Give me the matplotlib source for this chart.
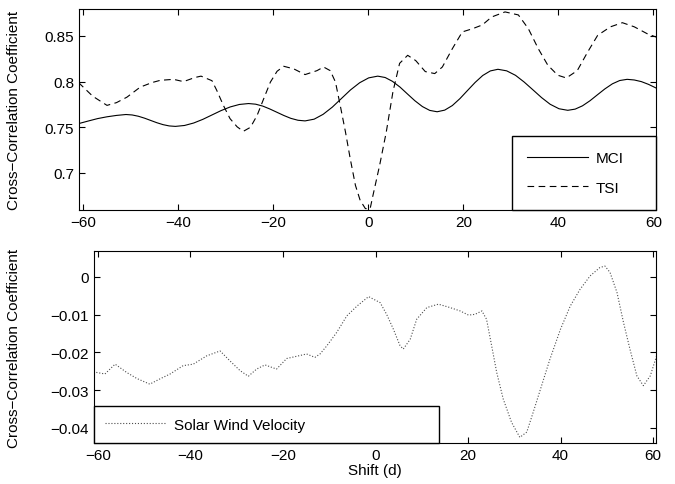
import numpy as np
import matplotlib.pyplot as plt
from matplotlib.ticker import FuncFormatter

plt.rcParams['font.family'] = ['Liberation Sans', 'DejaVu Sans']
plt.rcParams['font.size'] = 11

# cross-correlation vs shift (days)
mci_shift = [-61, -59, -57, -55, -53, -51, -49.7, -48.4, -47.1, -45.8, -44.5, -43.2, -41.9,
             -40.6, -38.675, -36.75, -34.825, -32.9, -30.975, -29.05, -27.125, -25.2,
             -23.71, -22.2, -20.74, -19.25, -17.76, -16.3, -14.79, -13.3, -11.39, -9.5,
             -7.56, -5.65, -3.74, -1.8, 0.09, 2, 3.56, 5.1, 6.69, 8.25, 9.81, 11.4, 12.94,
             14.5, 16.1, 17.7, 19.3, 20.9, 22.5, 24.1, 25.7, 27.3, 29.14, 31, 32.81, 34.65,
             36.49, 38.3, 40.16, 42, 43.56, 45.1, 46.69, 48.25, 49.81, 51.4, 52.94, 54.5,
             56, 57.5, 59, 61]
mci_cc = [0.754, 0.7568, 0.7595, 0.7615, 0.763, 0.764, 0.7635, 0.7621, 0.760, 0.7575,
          0.755, 0.7529, 0.7515, 0.751, 0.752, 0.7547, 0.7587, 0.7635, 0.7683, 0.7723,
          0.775, 0.776, 0.7753, 0.7732, 0.7701, 0.7665, 0.7629, 0.7598, 0.7577, 0.757,
          0.7589, 0.7642, 0.7721, 0.7815, 0.7909, 0.7988, 0.8041, 0.806, 0.8045, 0.8003,
          0.794, 0.7865, 0.7791, 0.7727, 0.7685, 0.767, 0.7688, 0.7738, 0.7814, 0.7903,
          0.7991, 0.8067, 0.8117, 0.8135, 0.8118, 0.8069, 0.7996, 0.7911, 0.7825, 0.7752,
          0.7703, 0.7686, 0.7699, 0.7735, 0.7791, 0.7856, 0.792, 0.7976, 0.8012, 0.8025,
          0.8018, 0.800, 0.797, 0.792]

tsi_shift = [-61, -58, -55, -53, -50.8, -48, -45.5, -43.8, -41, -38.9, -36.5, -35.2,
             -32.9, -31.9, -30.5, -29.1, -27.6, -26.3, -24.8, -23.4, -22, -20.6, -19.2,
             -17.8, -15.7, -13.3, -10.8, -9.4, -8, -6.9, -5.9, -4.8, -3.8, -2.7, -1.7,
             -0.6, 0.4, 1.0, 2.4, 3.8, 5.2, 6.6, 8.3, 10, 12, 14, 15.6, 17.7, 19.8, 22, 24,
             26, 28.8, 31.6, 33.7, 35.8, 37.8, 39.9, 41.7, 44, 46.2, 48.3, 51, 53.5, 56,
             58.7, 61]
tsi_cc = [0.799, 0.784, 0.774, 0.777, 0.783, 0.794, 0.799, 0.8014, 0.8025, 0.800, 0.8045,
          0.806, 0.801, 0.7905, 0.774, 0.7595, 0.7505, 0.7456, 0.750, 0.763, 0.7814,
          0.7995, 0.8113, 0.8168, 0.814, 0.8077, 0.812, 0.816, 0.812, 0.7995, 0.774,
          0.745, 0.7158, 0.6865, 0.670, 0.661, 0.661, 0.6756, 0.7085, 0.745, 0.789, 0.820,
          0.8288, 0.823, 0.811, 0.8088, 0.816, 0.836, 0.8544, 0.858, 0.862, 0.8708,
          0.8763, 0.873, 0.858, 0.836, 0.818, 0.807, 0.804, 0.812, 0.8325, 0.8507, 0.860,
          0.8645, 0.860, 0.8525, 0.848]

sw_shift = [-61, -60.3, -58.5, -56.3, -53.8, -51.6, -48.8, -46.6, -44.4, -41.6, -39.4,
            -36.5, -33.6, -31.5, -29.3, -27.5, -25.7, -23.9, -21.4, -19.2, -17, -14.9,
            -13.1, -12, -10.5, -8.4, -6.2, -4, -1.5, 1, 2.4, 3.85, 5.3, 6, 7.5, 8.9, 11.1,
            13.6, 16.1, 18.3, 20.1, 21.5, 23, 24, 25.1, 26.2, 27.6, 29.4, 31.2, 32.7, 34.1,
            35.9, 37.7, 40, 42.1, 44.2, 46.4, 48.5, 49.6, 50.7, 52.2, 53.6, 55, 56.5, 57.9,
            59.4, 61]
sw_cc = [-0.0252, -0.0253, -0.0257, -0.0231, -0.0253, -0.0269, -0.0284, -0.0270, -0.0257,
         -0.0235, -0.0231, -0.0209, -0.0196, -0.0222, -0.0248, -0.0263, -0.0244, -0.0233,
         -0.0244, -0.0216, -0.0210, -0.0204, -0.0213, -0.0204, -0.0182, -0.0147, -0.0103,
         -0.0077, -0.0052, -0.0068, -0.0099, -0.0138, -0.0182, -0.0191, -0.0165, -0.0112,
         -0.0081, -0.0072, -0.0081, -0.0090, -0.0101, -0.0099, -0.0090, -0.0112, -0.0182,
         -0.0253, -0.0323, -0.0385, -0.0425, -0.0411, -0.0358, -0.0288, -0.0218, -0.0138,
         -0.0077, -0.0033, 0.0003, 0.0025, 0.0029, 0.0012, -0.0041, -0.0120, -0.0191,
         -0.0262, -0.0288, -0.0262, -0.0200]

x_ticks = [-60, -40, -20, 0, 20, 40, 60]
top_yticks = [0.7, 0.75, 0.8, 0.85]
bot_yticks = [-0.04, -0.03, -0.02, -0.01, 0]

fmt = FuncFormatter(lambda v, p: ('%g' % round(v, 4)).replace('-', '\u2212'))
ylab = 'Cross\u2212Correlation Coefficient'

fig = plt.figure(figsize=(6.75, 4.85), dpi=100)
ax1 = fig.add_axes([0.117, 0.565, 0.855, 0.4144])
ax2 = fig.add_axes([0.139, 0.0845, 0.8326, 0.396])

ax1.plot(mci_shift, mci_cc, color='k', lw=0.8, label='MCI')
ax1.plot(tsi_shift, tsi_cc, color='k', lw=0.8, ls=(0, (6, 4)), label='TSI')
ax1.set_xlim(-60.9, 60.6)
ax1.set_ylim(0.6595, 0.8795)
ax1.set_yticks(top_yticks)
ax1.yaxis.set_label_coords(-0.1, 0.5)
leg1 = ax1.legend(loc='lower left', bbox_to_anchor=(0.7504, 0.0, 0.2496, 0.37),
                  mode='expand', borderaxespad=0, fancybox=False, edgecolor='k',
                  framealpha=1, handlelength=4.0, handletextpad=0.5,
                  labelspacing=1.0, borderpad=1.0)

ax2.plot(sw_shift, sw_cc, color='0.3', lw=0.8, ls=':', label='Solar Wind Velocity')
ax2.set_xlim(-60.9, 60.6)
ax2.set_ylim(-0.044, 0.0069)
ax2.set_yticks(bot_yticks)
ax2.set_xlabel('Shift (d)', labelpad=1)
ax2.yaxis.set_label_coords(-0.13, 0.5)
leg2 = ax2.legend(loc='lower left', bbox_to_anchor=(0.0, 0.0, 0.614, 0.2),
                  mode='expand', borderaxespad=0, fancybox=False, edgecolor='k',
                  framealpha=1, handlelength=4.0, handletextpad=0.5, borderpad=0.75)

for ax, leg in ((ax1, leg1), (ax2, leg2)):
    ax.set_xticks(x_ticks)
    ax.xaxis.set_major_formatter(fmt)
    ax.yaxis.set_major_formatter(fmt)
    ax.set_ylabel(ylab)
    ax.tick_params(direction='in', top=True, right=True, length=4, width=0.8)
    for s in ax.spines.values():
        s.set_linewidth(0.8)
    leg.get_frame().set_linewidth(1.0)

fig.savefig('out.png', dpi=100)
